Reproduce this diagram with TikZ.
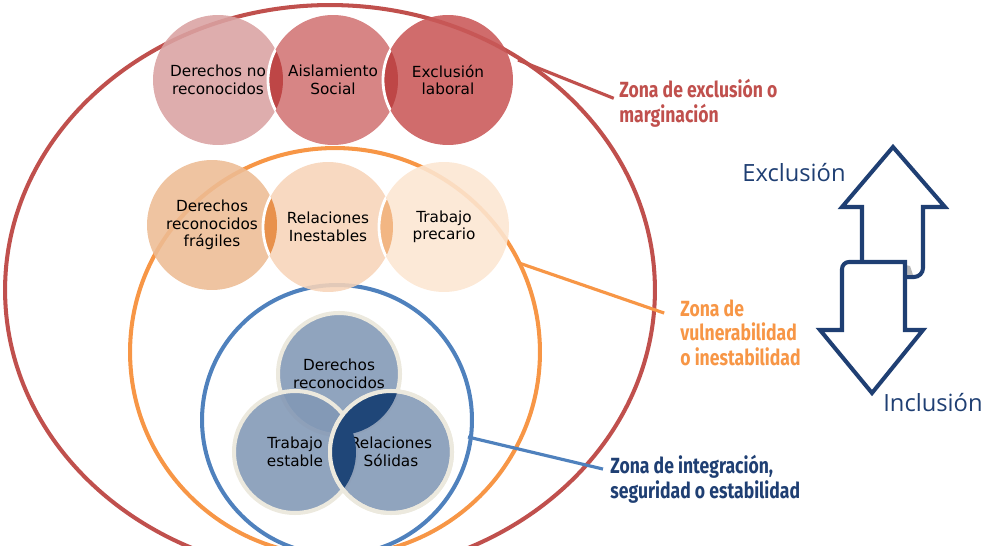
\documentclass[tikz,border=0pt]{standalone}
\usepackage{fontspec}
\setmainfont{DejaVu Sans}
\newfontfamily\zonefont[FakeStretch=0.8]{Fira Sans}
\newfontfamily\axisfont{Open Sans}
\usetikzlibrary{positioning}

\definecolor{zred}{HTML}{C0504D}
\definecolor{zora}{HTML}{F79646}
\definecolor{zblu}{HTML}{4F81BD}
\definecolor{navy}{HTML}{1F3F73}
\definecolor{rA}{HTML}{DAA2A2}
\definecolor{rB}{HTML}{D27474}
\definecolor{rC}{HTML}{C95858}
\definecolor{rL}{HTML}{BE4646}
\definecolor{oA}{HTML}{EDBC94}
\definecolor{oB}{HTML}{F7D4B8}
\definecolor{oC}{HTML}{FCE6D2}
\definecolor{oL}{HTML}{E8914C}
\definecolor{oM}{HTML}{F2B683}
\definecolor{bA}{HTML}{8197B5}
\definecolor{bL}{HTML}{1F4678}
\definecolor{beige}{HTML}{ECE9DE}

\begin{document}
\begin{tikzpicture}[x=0.02cm,y=-0.02cm,
    zona/.style={line width=2.3pt},
    guia/.style={line width=1.8pt},
    circ/.style={circle,minimum size=2.6cm,inner sep=0pt,align=center,text=black,
        font=\fontsize{8.7}{10}\selectfont,fill opacity=.88,text opacity=1},
    tri/.style={circ,minimum size=2.44cm,draw=beige,line width=2.3pt},
    rim/.style={draw=white,line width=1.6pt},
    lbl/.style={font=\zonefont\bfseries\fontsize{12.5}{14}\selectfont,
        align=left,anchor=north west,inner sep=0pt},
    eje/.style={font=\axisfont\fontsize{13.5}{15}\selectfont,text=navy,
        anchor=base west,inner sep=0pt},
    flecha/.style={draw=navy,line width=2.3pt}]

\useasboundingbox (0,0) rectangle (983,546);

% zonas
\draw[zona,draw=zred] (330,290) ellipse [x radius=6.5cm, y radius=5.7cm];
\draw[zona,draw=zora] (335,352) ellipse [x radius=4.1cm, y radius=4.08cm];
\draw[zona,draw=zblu] (337,420) circle [radius=2.7cm];

% exclusion
\node[circ,fill=rA] (dnr) at (218,80) {Derechos no\\reconocidos};
\node[circ,fill=rB] (ais) at (333,80) {Aislamiento\\Social};
\node[circ,fill=rC] (exl) at (448,80) {Exclusión\\laboral};
\begin{scope}
  \clip (dnr.center) circle [radius=1.3cm];
  \fill[rL] (ais.center) circle [radius=1.3cm];
  \draw[rim] (ais.center) circle [radius=1.3cm];
\end{scope}
\begin{scope}
  \clip (ais.center) circle [radius=1.3cm];
  \fill[rL] (exl.center) circle [radius=1.3cm];
  \draw[rim] (exl.center) circle [radius=1.3cm];
\end{scope}

% vulnerabilidad
\node[circ,fill=oA] (drf) at (212,225) {Derechos\\reconocidos\\frágiles};
\node[circ,fill=oB] (rin) at (328,227) {Relaciones\\Inestables};
\node[circ,fill=oC] (tpr) at (444,227) {Trabajo\\precario};
\begin{scope}
  \clip (drf.center) circle [radius=1.3cm];
  \fill[oL] (rin.center) circle [radius=1.3cm];
  \draw[rim] (rin.center) circle [radius=1.3cm];
\end{scope}
\begin{scope}
  \clip (rin.center) circle [radius=1.3cm];
  \fill[oM] (tpr.center) circle [radius=1.3cm];
  \draw[rim] (tpr.center) circle [radius=1.3cm];
\end{scope}

% integracion
\node[tri,fill=bA] (drc) at (339,374) {Derechos\\reconocidos};
\node[tri,fill=bA] (tes) at (295,452) {Trabajo\\estable};
\node[tri,fill=bA] (rso) at (391,452) {Relaciones\\Sólidas};
\begin{scope}
  \clip (rso.center) circle [radius=1.22cm];
  \fill[bL] (drc.center) circle [radius=1.22cm];
  \fill[bL] (tes.center) circle [radius=1.22cm];
\end{scope}
\draw[draw=beige,line width=2.3pt] (rso.center) circle [radius=1.22cm];

% etiquetas
\node[lbl,text=zred] (zExc) at (619,79) {Zona de exclusión o\\marginación};
\node[lbl,text=zora] (zVul) at (680,299) {Zona de\\vulnerabilidad\\o inestabilidad};
\node[lbl,text=navy] (zInt) at (610,455) {Zona de integración,\\seguridad o estabilidad};

\coordinate (rS) at (518,60);
\coordinate (oS) at (519,263);
\coordinate (bS) at (468,437);
\draw[guia,draw=zred] (rS) -- ([xshift=-3pt,yshift=-11pt]zExc.north west);
\draw[guia,draw=zora] (oS) -- ([xshift=-9pt,yshift=-8pt]zVul.north west);
\draw[guia,draw=zblu] (bS) -- ([xshift=-4pt,yshift=-8pt]zInt.north west);

% flechas
\draw[flecha] (862,262) -- (862,207) -- (842,207) -- (893,147) -- (945,207)
    -- (923,207) -- (923,268) to[out=-90,in=0] (914,277) -- (905,277);
\fill[gray!55] (905,265) -- (910,266) -- (913,275) -- (905,275) -- cycle;
\draw[flecha] (842,330) -- (820,330) -- (872,393) -- (923,330) -- (905,330)
    -- (905,262) [rounded corners=4pt] -- (842,262) [sharp corners] -- cycle;

\node[eje] (exc) at (742,182) {Exclusión};
\node[eje] (inc) at (883,412) {Inclusión};

\end{tikzpicture}
\end{document}
